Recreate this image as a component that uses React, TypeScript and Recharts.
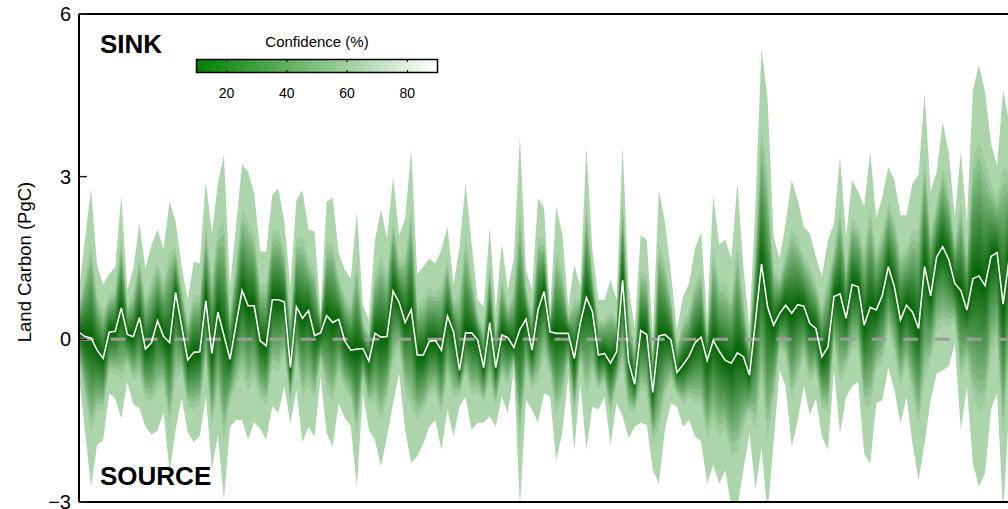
import React from 'react';
import { ComposedChart, Area, Line, XAxis, YAxis } from 'recharts';

// Central estimate of the land carbon flux (PgC), one value per time step
const CENTRAL = [
  0.13, 0.05, 0.02, -0.2, -0.35, 0.13, 0.15, 0.58, 0.09, 0.05,
  0.4, -0.18, -0.06, 0.34, 0.05, -0.06, 0.86, 0.24, -0.38, -0.24,
  -0.23, 0.71, -0.26, 0.5, 0.07, -0.37, 0.27, 0.9, 0.62, 0.62,
  -0.03, -0.12, 0.73, 0.73, 0.69, -0.52, 0.6, 0.39, 0.53, 0.07,
  0.12, 0.44, 0.31, 0.37, -0.03, -0.2, -0.18, -0.17, -0.4, 0.11,
  0.04, 0.05, 0.89, 0.68, 0.31, 0.55, -0.29, -0.29, -0.04, -0.02,
  -0.2, 0.43, 0.14, -0.57, 0.12, 0.12, -0.01, -0.52, 0.31, -0.52,
  0.08, 0.03, -0.15, 0.18, 0.37, -0.2, 0.54, 0.88, 0.14, 0.11,
  0.11, 0.11, -0.35, 0.3, 0.77, 0.51, -0.29, -0.26, -0.44, -0.23,
  1.09, -0.41, -0.83, 0.16, 0.09, -0.98, 0.06, 0.09, -0.01, -0.61,
  -0.47, -0.31, -0.06, 0.04, -0.39, -0.02, -0.22, -0.39, -0.44, -0.25,
  -0.32, -0.66, 0.33, 1.39, 0.6, 0.26, 0.48, 0.63, 0.48, 0.64,
  0.61, 0.29, 0.2, -0.32, -0.14, 0.79, 0.84, 0.39, 1.01, 0.97,
  0.26, 0.59, 0.54, 0.81, 1.34, 0.97, 0.36, 0.63, 0.5, 0.2,
  1.34, 0.8, 1.52, 1.71, 1.47, 1.03, 0.9, 0.54, 1.12, 1.17,
  0.99, 1.53, 1.6, 0.65, 1.5, 1.3,
];

// Upper edge of the widest (99%) confidence envelope
const UPPER = [
  0.9, 1.85, 2.78, 1.37, 1.01, 1.2, 1.34, 2.64, 0.91, 1.31,
  2.14, 1.31, 1.74, 2.03, 1.65, 2.54, 2.17, 1.34, 0.73, 1.43,
  1.4, 2.91, 1.95, 2.88, 3.4, 0.97, 2.1, 3.23, 3.09, 2.69,
  1.62, 1.62, 2.66, 2.78, 2.17, 0.97, 2.57, 2.75, 2.02, 1.99,
  0.48, 2.54, 2.61, 1.59, 1.28, 1.12, 2.35, 0.63, 0.36, 1.83,
  2.4, 1.86, 3.0, 1.92, 2.23, 3.5, 1.2, 1.34, 1.49, 1.4,
  1.65, 2.08, 1.0, 1.7, 2.88, 1.77, 0.73, 0.6, 2.05, 0.54,
  1.77, 0.91, 1.5, 3.74, 1.28, 0.9, 2.6, 2.42, 0.54, 2.45,
  1.95, 0.6, 1.37, 0.97, 3.55, 1.65, 0.73, 0.73, 1.1, 0.73,
  3.58, 0.97, 0.2, 1.92, 1.83, 0.1, 2.75, 2.17, 1.22, 0.17,
  0.79, 1.03, 1.68, 1.97, 0.36, 2.66, 1.74, 1.84, 1.49, 2.88,
  1.34, 0.23, 2.5, 5.37, 4.44, 1.9, 1.49, 2.14, 2.94, 2.57,
  2.08, 1.95, 1.52, 1.16, 1.83, 2.14, 3.37, 1.89, 2.94, 2.72,
  2.45, 3.46, 2.23, 2.63, 3.18, 2.94, 2.29, 2.29, 2.88, 3.03,
  4.54, 2.72, 3.09, 4.01, 3.43, 2.26, 3.46, 2.14, 4.6, 5.06,
  4.57, 3.61, 3.2, 4.6, 4.0, 3.5,
];

// Lower edge of the widest (99%) confidence envelope
const LOWER = [
  -0.66, -1.7, -2.72, -1.95, -1.86, -1.0, -1.09, -1.46, -0.78, -1.2,
  -1.27, -1.61, -1.76, -1.68, -1.34, -2.44, -1.67, -1.08, -1.71, -1.9,
  -1.78, -1.06, -2.4, -1.76, -2.96, -1.61, -1.49, -1.49, -1.85, -1.53,
  -1.65, -1.85, -1.23, -1.36, -0.87, -1.55, -0.93, -1.9, -1.61, -1.79,
  -0.69, -1.73, -1.98, -1.18, -1.45, -1.6, -2.72, -0.99, -1.67, -1.86,
  -2.35, -1.79, -1.18, -0.63, -1.67, -2.28, -2.16, -1.92, -1.61, -1.49,
  -2.04, -1.3, -1.79, -1.24, -1.06, -1.67, -1.54, -1.54, -1.42, -1.61,
  -1.06, -1.36, -0.57, -3.1, -1.12, -1.3, -1.54, -0.99, -1.06, -2.23,
  -1.73, -0.69, -2.04, -0.81, -2.04, -1.24, -1.3, -1.06, -1.95, -1.18,
  -1.42, -1.82, -1.61, -1.54, -1.58, -2.4, -2.66, -1.67, -1.18, -1.24,
  -1.61, -1.49, -1.79, -1.88, -2.66, -2.32, -2.66, -2.41, -3.1, -3.1,
  -2.41, -1.73, -2.78, -2.0, -3.2, -1.92, -0.57, -0.87, -1.98, -1.49,
  -0.87, -1.39, -1.09, -1.79, -2.04, -0.57, -1.73, -1.06, -0.87, -0.78,
  -2.11, -2.29, -1.18, -1.12, -0.53, -0.93, -1.55, -1.06, -1.92, -2.6,
  -1.92, -1.12, -0.63, -0.57, -0.5, -0.07, -1.67, -0.87, -2.29, -2.72,
  -2.47, -1.3, -0.99, -3.2, -1.3, -1.5,
];

// Confidence levels (%) of the nested bands and their two-sided normal z-scores
const CONFIDENCE_LEVELS = [5, 10, 15, 20, 25, 30, 35, 40, 45, 50, 55, 60, 65, 70, 75, 80, 85, 90, 99];
const Z_SCORES = [
  0.0627, 0.1257, 0.1891, 0.2533, 0.3186, 0.3853, 0.4538, 0.5244, 0.5978, 0.6745,
  0.7554, 0.8416, 0.9346, 1.0364, 1.1503, 1.2816, 1.4395, 1.6449, 2.5758,
];

const X_TICKS = [15, 30, 45, 60, 75, 90, 105, 120, 135, 150];
const Y_TICKS = [-3, 0, 3, 6];
const COLORBAR_TICKS = [20, 40, 60, 80];
const COLORBAR_RANGE = [10, 90];

const FONT = '"Liberation Sans", Arial, Helvetica, sans-serif';

const data = CENTRAL.map((v, i) => ({ t: i, central: v, upper: UPPER[i], lower: LOWER[i] }));

const DARK = [0, 96, 0];
const LIGHT = [172, 213, 172];
const zOuter = Z_SCORES[Z_SCORES.length - 1];

function shade(t: number) {
  const c = DARK.map((d, j) => Math.round(d + (LIGHT[j] - d) * t));
  return `rgb(${c[0]},${c[1]},${c[2]})`;
}

const bands = CONFIDENCE_LEVELS.map((level, k) => {
  const z = Z_SCORES[k];
  const frac = z / zOuter;
  const isOuter = k === CONFIDENCE_LEVELS.length - 1;
  const t = isOuter ? 1 : Math.min(1, z / 1.8);
  return {
    level,
    color: shade(t),
    key: (d: any) => [
      d.central - (d.central - d.lower) * frac,
      d.central + (d.upper - d.central) * frac,
    ],
  };
}).reverse();

// Colorbar geometry
const CB = { x: 196.5, y: 59.5, w: 241, h: 13 };
const cbX = (v: number) => CB.x + ((v - COLORBAR_RANGE[0]) / (COLORBAR_RANGE[1] - COLORBAR_RANGE[0])) * CB.w;

const AXIS_LINE = { stroke: '#000', strokeWidth: 2 };
const TICK_LINE = { stroke: '#222', strokeWidth: 1.5 };

export default function App() {
  return (
    <div style={{ position: 'absolute', left: 0, top: 0, width: 1008, height: 509, overflow: 'hidden', background: '#fff' }}>
      <ComposedChart width={1030} height={509} data={data} margin={{ top: 13, right: 13.8, bottom: 6, left: 0 }}>
        <XAxis
          xAxisId="b"
          dataKey="t"
          type="number"
          domain={[0, 155]}
          ticks={X_TICKS}
          interval={0}
          orientation="bottom"
          height={1}
          tick={false}
          tickSize={-8}
          axisLine={AXIS_LINE}
          tickLine={TICK_LINE}
        />
        <XAxis
          xAxisId="t"
          dataKey="t"
          type="number"
          domain={[0, 155]}
          ticks={X_TICKS}
          interval={0}
          orientation="top"
          height={1}
          tick={false}
          tickSize={-8}
          axisLine={AXIS_LINE}
          tickLine={TICK_LINE}
        />
        <YAxis
          yAxisId="l"
          type="number"
          domain={[-3, 6]}
          ticks={Y_TICKS}
          interval={0}
          allowDataOverflow
          width={79}
          tickSize={-8}
          tickMargin={16}
          tickFormatter={(v: number) => (v < 0 ? `\u2212${Math.abs(v)}` : `${v}`)}
          tick={{ fill: '#000', fontSize: 20, fontFamily: FONT }}
          axisLine={AXIS_LINE}
          tickLine={TICK_LINE}
        />
        <YAxis
          yAxisId="r"
          orientation="right"
          type="number"
          domain={[-3, 6]}
          ticks={Y_TICKS}
          interval={0}
          width={1}
          tick={false}
          tickSize={-8}
          axisLine={AXIS_LINE}
          tickLine={TICK_LINE}
        />
        {bands.map((b) => (
          <Area
            key={b.level}
            xAxisId="b"
            yAxisId="l"
            type="linear"
            dataKey={b.key}
            stroke="none"
            fill={b.color}
            fillOpacity={1}
            isAnimationActive={false}
            activeDot={false}
          />
        ))}
        <Line
          xAxisId="b"
          yAxisId="l"
          type="linear"
          dataKey={() => 0}
          stroke="#9c9c9c"
          strokeWidth={3}
          strokeDasharray="15 16.7"
          dot={false}
          activeDot={false}
          isAnimationActive={false}
        />
        <Line
          xAxisId="b"
          yAxisId="l"
          type="linear"
          dataKey="central"
          stroke="#fff"
          strokeWidth={1.6}
          dot={false}
          activeDot={false}
          isAnimationActive={false}
        />
      </ComposedChart>
      <svg
        width={1008}
        height={509}
        style={{ position: 'absolute', left: 0, top: 0, pointerEvents: 'none' }}
        fontFamily={FONT}
      >
        <defs>
          <linearGradient id="cbGrad" x1="0" y1="0" x2="1" y2="0">
            <stop offset="0%" stopColor="rgb(0,128,0)" />
            <stop offset="100%" stopColor="rgb(255,255,255)" />
          </linearGradient>
        </defs>
        <text x={31} y={262} transform="rotate(-90 31 262)" textAnchor="middle" fontSize={18.5} fill="#000">
          Land Carbon (PgC)
        </text>
        <text x={100} y={53} fontSize={26} fontWeight="bold" fill="#000">SINK</text>
        <text x={100} y={485} fontSize={26} fontWeight="bold" fill="#000">SOURCE</text>
        <text x={317} y={47} textAnchor="middle" fontSize={15} fill="#000">Confidence (%)</text>
        <rect x={CB.x} y={CB.y} width={CB.w} height={CB.h} fill="url(#cbGrad)" stroke="#000" strokeWidth={1.5} />
        {COLORBAR_TICKS.map((v) => (
          <g key={v}>
            <line x1={cbX(v)} x2={cbX(v)} y1={CB.y} y2={CB.y + 2.5} stroke="#000" strokeWidth={1} />
            <line x1={cbX(v)} x2={cbX(v)} y1={CB.y + CB.h - 2.5} y2={CB.y + CB.h} stroke="#000" strokeWidth={1} />
            <text x={cbX(v)} y={98} textAnchor="middle" fontSize={14} fill="#000">{v}</text>
          </g>
        ))}
      </svg>
    </div>
  );
}
